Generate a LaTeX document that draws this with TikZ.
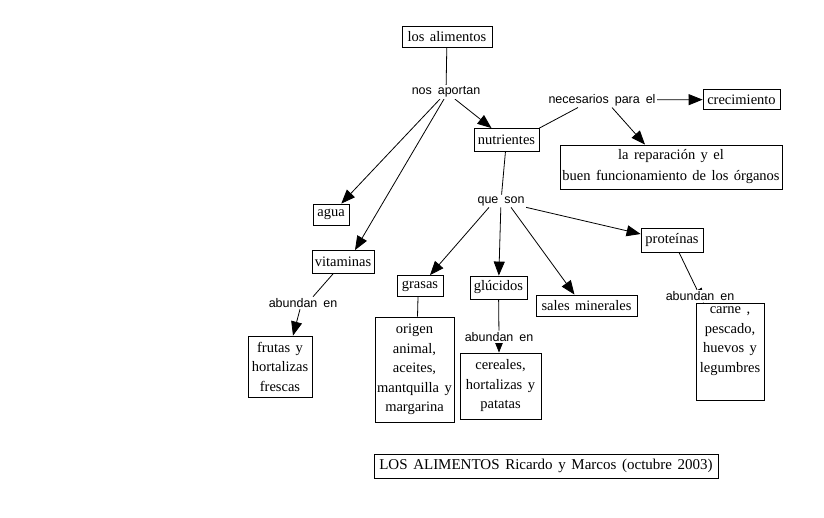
\documentclass[tikz,border=0pt]{standalone}
\usepackage{fontspec}
\setmainfont[WordSpace=1.5]{Liberation Serif}
\setsansfont[WordSpace=1.7]{Liberation Sans}
\usetikzlibrary{arrows.meta,backgrounds}
\begin{document}
\begin{tikzpicture}[x=1pt,y=-1pt,
  box/.style={draw, line width=0.8pt, fill=white, inner sep=1pt, align=center, font=\fontsize{14.5}{19.5}\selectfont},
  lbl/.style={fill=white, inner sep=1.5pt, font=\sffamily\fontsize{12.5}{15}\selectfont},
  con/.style={line width=0.8pt},
  arr/.style={con, -{Triangle[length=14pt,width=11pt]}},
  txt/.style={inner sep=0pt, align=center, font=\fontsize{14.5}{19.5}\selectfont}]
\useasboundingbox (0,0) rectangle (824,518);
\node[box, minimum width=90pt, minimum height=21pt] (alim) at (447,36.5) {los alimentos};
\node[lbl] (nos) at (446,92) {nos aportan};
\node[box, minimum width=65pt, minimum height=23pt] (nutr) at (506.5,140) {nutrientes};
\node[lbl] (nec) at (602,100) {necesarios para el};
\node[box, minimum width=77pt, minimum height=20pt] (crec) at (741.5,99.5) {crecimiento};
\node[box, minimum width=222pt, minimum height=44pt, font=\fontsize{14.5}{21}\selectfont] (rep) at (671,167) {la reparación y el\\buen funcionamiento de los órganos};
\node[lbl] (que) at (501,201) {que son};
\node[box, minimum width=36pt, minimum height=21pt] (agua) at (331,214.5) {agua};
\node[box, minimum width=62pt, minimum height=23pt] (vit) at (343,262) {vitaminas};
\node[lbl] (ab1) at (303,303) {abundan en};
\node[box, minimum width=64pt, minimum height=61pt] (frut) at (280,366.5) {frutas y\\hortalizas\\frescas};
\node[box, minimum width=46pt, minimum height=21pt] (gras) at (420,286) {grasas};
\node[box, minimum width=79pt, minimum height=105pt] (orig) at (414.5,369.5) {origen\\animal,\\aceites,\\mantquilla y\\margarina};
\node[box, minimum width=57pt, minimum height=23pt] (gluc) at (498.5,287.5) {glúcidos};
\node[lbl] (ab2) at (499,337) {abundan en};
\node[box, minimum width=81pt, minimum height=66pt] (cer) at (500.5,386) {cereales,\\hortalizas y\\patatas};
\node[box, minimum width=101pt, minimum height=21pt] (sales) at (586.5,305.5) {sales minerales};
\node[box, minimum width=62pt, minimum height=24pt] (prot) at (672,240) {proteínas};
\node[lbl] (ab3) at (700,296) {abundan en};
\node[box, minimum width=68pt, minimum height=97pt] (carne) at (730,351.5) {};
\node[txt] (carnet) at (730,341) {carne ,\\pescado,\\huevos y\\legumbres};
\node[box, minimum width=344pt, minimum height=24pt, font=\fontsize{15}{18}\selectfont] (cap) at (546,466) {LOS ALIMENTOS Ricardo y Marcos (octubre 2003)};
\begin{pgfonlayer}{background}
\fill[white] (0,0) rectangle (824,518);
\draw[con] (alim) -- (nos);
\draw[arr] (nos) -- (nutr);
\draw[arr] ([xshift=-6pt]nos.south) -- (agua);
\draw[arr] ([xshift=-2pt]nos.south) -- ([xshift=12pt]vit.north);
\draw[con] (nutr.north east) -- ([xshift=-24pt]nec.south);
\draw[arr] (nec) -- (crec);
\draw[arr] ([xshift=10pt]nec.south) -- ([xshift=-26pt]rep.north);
\draw[con] (nutr) -- (que);
\draw[arr] ([xshift=-12pt]que.south) -- ([xshift=10pt]gras.north);
\draw[arr] (que) -- (gluc);
\draw[arr] ([xshift=10pt]que.south) -- ([xshift=-12pt]sales.north);
\draw[arr] (que.south east) -- ([yshift=6pt]prot.west);
\draw[con] ([xshift=-10pt]vit.south) -- ([xshift=10pt]ab1.north);
\draw[arr] ([xshift=-3pt]ab1.south) -- ([xshift=13pt]frut.north);
\draw[con] ([xshift=-2pt]gras.south) -- ([xshift=3pt]orig.north);
\draw[con] (gluc) -- (ab2);
\draw[arr] (ab2.center) -- (ab2.center |- cer.north);
\draw[con] ([xshift=7pt]prot.south) -- ([xshift=-3pt]ab3.north);
\draw[arr] (ab3.center) -- (carne);
\end{pgfonlayer}
\end{tikzpicture}
\end{document}
